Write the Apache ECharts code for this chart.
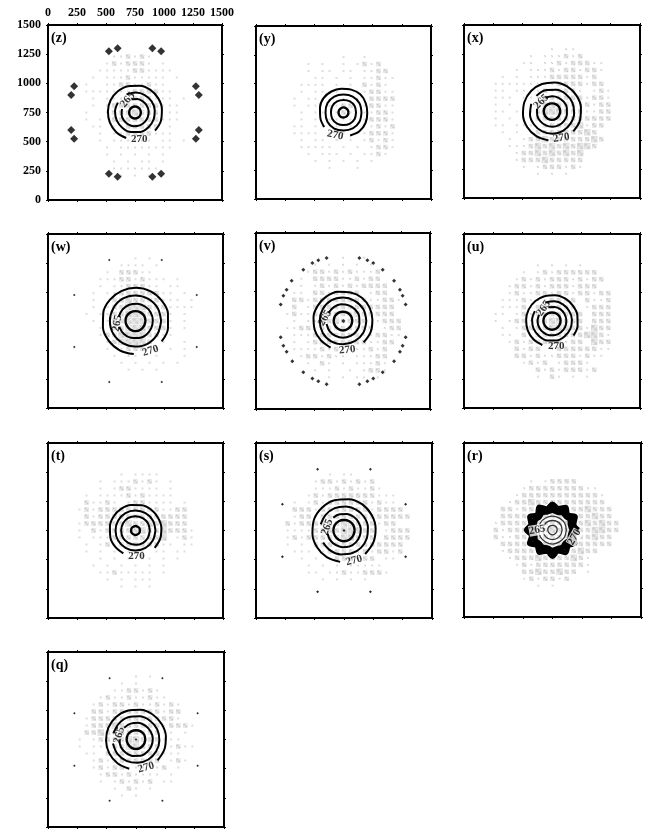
<!DOCTYPE html>
<html>
<head>
<meta charset="utf-8">
<style>
html, body { margin: 0; padding: 0; background: #fff; }
#main { width: 646px; height: 829px; }
</style>
<script src="https://cdn.jsdelivr.net/npm/echarts@6/dist/echarts.min.js"></script>
</head>
<body>
<div id="main"></div>
<script>
var ticks = [0, 250, 500, 750, 1000, 1250, 1500];

// gray cloud density read by eye, cells 60 units apart, x 210..1290, y 1290..210
var cloudZ = [
"...................",
"......112121.......",
".....1212221.1.....",
"....11111221111....",
"...1.111211111.1...",
"..1..112211211.....",
"..1111111222211....",
"...1.1111222111.1..",
"...1.12222222111...",
"..1..12223222.11...",
"..1.1.2222222111...",
"...11.1122222.1....",
"....1.112222111....",
"....1.111111.11.1..",
".....1.11111111....",
".....1.1.1.1.1.....",
"......1.1.11.1.....",
"......1111111......",
".......1.1.1......."];
var cloudY = [
"...................",
".........1..1......",
"....1.1..1.1212....",
"....1.11.11.1122...",
".....11.1.1.11211..",
"...1111.1.1.2121...",
"...1.1111..112211..",
"..1.111..1.112222..",
"..1.11.1122.12211..",
"...1.11.121.11221..",
"...1.1.1111.12221..",
"..11.11.1.1.11212..",
"..1111.1.1.112221..",
"...1.11.1.1.12121..",
"...11111.1.1.1221..",
"....1.111.1.1121...",
".....1.1.1.1.1.....",
".......1...1.......",
"..................."];
var cloudX = [
".........1.11......",
"......1.111212.....",
".....11.112122211..",
"....1.11121221221..",
"..1.1.1112222212...",
".1111111112222122..",
".11.1111212221.121.",
".111.1112222221221.",
".1.1.1122322212122.",
".11.1.123332221122.",
".1.1.1122222222222.",
".11.111.222223122..",
"..1.1.1222222232...",
"...1.122322222232..",
"...1112323232332...",
"....1223232323.....",
"....1222322222.....",
".....1.1222121.....",
".......1.1.1......."];
var cloudW = [
".........1.1.......",
".......1111.1......",
".....1.22211.......",
"....1112212111.1...",
"....1.1122211.11...",
"...1.1122222211.1..",
"...1..2232222111.1.",
"...1.1223332221111.",
"..1.11223332221.1..",
"...1.1223332221.1..",
"....1.223332221.1..",
"....12233332211....",
".....1233332.1..1..",
".....1.1222.1.1.1..",
"......1.11..1...1..",
".......1.1.1.1.1...",
"........1.1.1......",
"...................",
"..................."];
var cloudV = [
".........1..1......",
".....1.1.1.1.1.....",
"....12212121112....",
"...1.2222112122....",
"...1.12121212222...",
"..11.2212222.122...",
"..2212222222211221.",
"..2.1222222222222..",
".1211222222322222..",
"..1.112232222.1222.",
".1122122222222.122.",
"..1112222222112211.",
"..1.1222222221122..",
"..11112121111212...",
"...1221211.11122...",
"....1.21.1.11121...",
".....1.1..1.1221...",
".......1.1.11.1....",
"..................."];
var cloudU = [
"...................",
".......1.1.1.1.....",
".....1.121222222...",
"....1212122212122..",
"...1221212221222...",
"...121122122122122.",
"..11121112222.2112.",
"..11121222222.1222.",
".11.1212222222.222.",
".1.12212233222.222.",
"..1.12222333221322.",
"..11.2122222223321.",
"...12122222122.322.",
"....2122.122222211.",
"....2212112221211..",
".....1212.12221....",
".......212122212...",
".......1.21.1.1....",
"..................."];
var cloudT = [
"...................",
".......1.1111......",
"....1.1112121.1....",
"....1.1221111.1....",
"..1.11112121111....",
"..21121.1221111.1..",
".1212222222221122..",
"..212222222222222..",
".1222222322323222..",
".1.212222232232221.",
".1.11122222223.121.",
"..1.12122222211.11.",
"..1.1.1.111.11.11..",
"....1.1.1.11.1.1...",
"...1.1.1.1.1.1.....",
"....11211111.1.....",
".....1.1.111.......",
".......1.1.1.......",
"..................."];
var cloudS = [
"...................",
".......1.11........",
".....122121212.....",
".....1112121121....",
"....1212222222111..",
"..1.1212222221211..",
"..2221222222212222.",
"..12212222222222222",
".2122222233222122..",
".1111222233322.1222",
".1212222233222.2222",
".1.1.2222222222222.",
"..111.122221212212.",
"...1.1.1222122.11..",
"....1.1.1.11111....",
"....11.112112221...",
"......1.1.1.1......",
"...................",
"..................."];
var cloudR = [
"...................",
"...................",
"......1.12222......",
".....12222222211...",
"....1222222222221..",
"...12232222222222..",
"..2212222222223222.",
"..2222222222222322.",
".122222222222232322",
".212222223222223322",
".21122222222222322.",
"..2222222222222222.",
"..12222222222322...",
"...122232222321....",
"....12122222221....",
".....22322322.1....",
".....1212212.......",
".......1.1.........",
"..................."];
var cloudQ = [
".........1.1.......",
".......1.1.........",
"......1122121......",
"....1211211211.....",
"...1212212112121...",
"...2212222222122...",
"..12222222222221...",
"..1222322222212221.",
"..2232222222211.1..",
".1.1222233222111...",
".1.1112233222.1211.",
"..11.22222222111...",
"...1212222222.121..",
"...12122.11.12.1...",
"....122121111.1....",
"....1.121212.11....",
"......1.21.1.......",
".......1.1.........",
"..................."];

// contour arcs: [from angle, to angle, radii at even angle steps], 750,750 is the middle
var ringsZ = [
  [-42, 251, [232,234,233,234,235,234,234,235,235,233,233,234,232]],
  [-210, 115, [170,172,171,171,172,173,172,171,171,172,172,171,172]],
  [-195, 105, [116,117,117,117,118,118,117,117,118,117,117,118,117]],
  [0, 360, [50,51,51,51,51,51,50,51,51,51,51,51,50]]
];
var ringsY = [
  [-74, 217, [206,212,210,205,208,213,208,205,209,212,207,205,208]],
  [0, 360, [155,159,159,155,159,160,155,160,160,155,159,159,155]],
  [0, 360, [108,111,111,108,111,111,108,111,111,108,111,111,108]],
  [0, 360, [43,43,43,44,43,43,43,43,44,43,43,43,43]]
];
var ringsX = [
  [-43, 263, [250,252,251,251,252,251,251,252,251,251,252,251,250]],
  [-200, 135, [190,191,191,190,191,191,190,191,191,191,190,191,190]],
  [-190, 115, [131,131,131,131,131,131,131,131,131,131,131,131,130]],
  [0, 360, [71,72,71,70,71,72,71,70,71,72,71,70,71]]
];
var ringsW = [
  [-38, 267, [285,286,286,285,286,286,285,286,286,285,286,286,285]],
  [0, 360, [220,221,220,220,221,220,220,221,220,220,221,220,220]],
  [-160, 165, [149,150,149,149,150,149,149,150,149,149,150,149,149]],
  [0, 360, [86,87,86,85,86,87,86,85,86,87,86,85,86]]
];
var ringsV = [
  [-46, 245, [254,255,252,255,257,253,255,254,253,255,254,252,252]],
  [0, 360, [200,202,200,201,203,201,199,201,202,200,200,201,200]],
  [-170, 150, [143,144,143,144,143,144,143,144,143,143,144,143,143]],
  [0, 360, [80,81,80,79,80,81,80,79,80,81,80,79,80]]
];
var ringsU = [
  [-34, 248, [222,223,223,222,223,223,222,223,223,222,223,223,222]],
  [-210, 110, [170,171,171,170,171,171,170,171,171,170,171,171,170]],
  [-205, 105, [123,124,123,123,124,123,123,124,123,123,124,123,123]],
  [0, 360, [74,75,74,73,74,75,74,73,74,75,74,73,74]]
];
var ringsT = [
  [-42, 242, [222,223,223,222,223,223,222,223,223,222,223,223,222]],
  [0, 360, [171,172,171,171,172,171,171,172,171,171,172,171,171]],
  [0, 360, [123,124,123,123,124,123,123,124,123,123,124,123,123]],
  [0, 360, [37,39,37,39,37,39,37,39,37,39,37,39,37]]
];
var ringsS = [
  [-48, 263, [270,271,271,271,273,271,271,271,273,271,271,271,270]],
  [-150, 165, [206,207,206,206,207,206,206,207,206,206,207,206,206]],
  [-170, 130, [143,144,143,143,144,143,143,144,143,143,144,143,143]],
  [0, 360, [91,92,91,90,91,92,91,90,91,92,91,90,91]]
];
var ringsR = [
  [0, 360, [220,190,226,186,224,192,222,188,228,186,226,192,224,186,228,190,222,188,226,186,224,192,222,188,220]],
  [0, 360, [172,162,176,166,172,160,172,164,176,162,172,166,172,160,174,164,172,162,176,166,172,160,172,162,172]],
  [0, 360, [118,120,117,119,118,120,117,119,118,120,117,119,118]],
  [0, 360, [82,83,82,81,82,83,82,81,82,83,82,81,82]],
  [0, 360, [40,41,40,39,40,41,40,39,40,41,40,39,40]]
];
var ringsQ = [
  [-44, 257, [256,257,257,256,257,257,256,257,257,256,257,257,256]],
  [-170, 165, [200,201,200,200,201,200,200,201,200,200,201,200,200]],
  [-180, 135, [143,144,143,143,144,143,143,144,143,143,144,143,143]],
  [0, 360, [80,81,80,79,80,81,80,79,80,81,80,79,80]]
];

var marksZ = [[525,1275],[600,1300],[900,1300],[975,1275],[225,975],[200,900],[1275,975],[1300,900],
  [200,600],[225,525],[1300,600],[1275,525],[525,225],[600,200],[900,200],[975,225]];
var marksV = [[609,1287],[537,1267],[486,1244],[408,1187],[307,1093],[264,1016],[236,965],[213,891],
  [213,612],[236,538],[264,487],[313,407],[408,313],[486,259],[537,236],[609,211],
  [891,1287],[960,1267],[1011,1244],[1092,1187],[1190,1093],[1241,1016],[1264,965],[1290,891],
  [1290,612],[1264,538],[1241,487],[1190,407],[1092,313],[1011,259],[960,236],[891,211],[753,749]];
var marksEight = [[525,1275],[975,1275],[225,975],[1275,975],[225,525],[1275,525],[525,225],[975,225]];
var marksCenter = [[750,750]];

// contour label spots: [text, x, y, rotate]
var labelsZ = [["265",687,859,50],["270",787,521,0]];
var labelsY = [["270",679,553,-12]];
var labelsX = [["265",659,836,45],["270",830,521,8]];
var labelsW = [["265",593,730,80],["270",879,493,18]];
var labelsV = [["265",593,776,60],["270",787,504,5]];
var labelsU = [["265",679,859,55],["270",787,530,0]];
var labelsT = [["270",759,530,0]];
var labelsS = [["265",607,779,70],["270",836,493,15]];
var labelsR = [["265",620,750,10],["270",936,687,60]];
var labelsQ = [["265",607,787,75],["270",836,510,15]];

var panels = [
  { name: "(z)", box: [48, 25, 174, 175], cloud: cloudZ, rings: ringsZ, labels: labelsZ, marks: marksZ, markSize: 8 },
  { name: "(y)", box: [256, 26, 175, 173], cloud: cloudY, rings: ringsY, labels: labelsY, marks: [], markSize: 0 },
  { name: "(x)", box: [464, 25, 176, 173], cloud: cloudX, rings: ringsX, labels: labelsX, marks: [], markSize: 0 },
  { name: "(w)", box: [48, 234, 175, 174], cloud: cloudW, rings: ringsW, labels: labelsW, marks: marksEight, markSize: 2.5 },
  { name: "(v)", box: [256, 233, 174, 176], cloud: cloudV, rings: ringsV, labels: labelsV, marks: marksV, markSize: 4 },
  { name: "(u)", box: [464, 234, 176, 174], cloud: cloudU, rings: ringsU, labels: labelsU, marks: [], markSize: 0 },
  { name: "(t)", box: [48, 443, 175, 175], cloud: cloudT, rings: ringsT, labels: labelsT, marks: [], markSize: 0 },
  { name: "(s)", box: [256, 443, 176, 175], cloud: cloudS, rings: ringsS, labels: labelsS, marks: marksEight.concat(marksCenter), markSize: 3 },
  { name: "(r)", box: [464, 443, 177, 174], cloud: cloudR, rings: ringsR, labels: labelsR, marks: [], markSize: 0 },
  { name: "(q)", box: [48, 652, 176, 175], cloud: cloudQ, rings: ringsQ, labels: labelsQ, marks: marksEight.concat(marksCenter), markSize: 2.5 }
];

var serif = "Liberation Serif";
var cloudSizes = [0, 2, 4.5, 6.5];

// little checker tile so the cloud looks stippled like the print
var tile = document.createElement("canvas");
tile.width = 2;
tile.height = 2;
var tileCtx = tile.getContext("2d");
tileCtx.fillStyle = "#f0f0f0";
tileCtx.fillRect(0, 0, 2, 2);
tileCtx.fillStyle = "#bababa";
tileCtx.fillRect(0, 0, 1, 1);
tileCtx.fillRect(1, 1, 1, 1);

function cloudPoints(rows) {
  var pts = [];
  rows.forEach(function (row, j) {
    for (var i = 0; i < row.length; i++) {
      if (row[i] !== ".") pts.push([210 + 60 * i, 1290 - 60 * j, +row[i]]);
    }
  });
  return pts;
}

function arcPoints(arc) {
  var step = (arc[1] - arc[0]) / (arc[2].length - 1);
  return arc[2].map(function (r, k) { return [r, arc[0] + k * step]; });
}

var option = {
  animation: false,
  backgroundColor: "#fff",
  title: [], grid: [], xAxis: [], yAxis: [], polar: [], radiusAxis: [], angleAxis: [], series: []
};

panels.forEach(function (p, n) {
  var left = p.box[0], top = p.box[1], w = p.box[2], h = p.box[3];
  var first = n === 0;
  var line = { show: true, onZero: false, lineStyle: { color: "#000", width: 2 } };
  var tick = { show: true, length: 2, lineStyle: { color: "#000", width: 1 } };
  var labelStyle = { fontFamily: serif, fontWeight: "bold", fontSize: 12, color: "#000", formatter: function (v) { return String(v); } };

  option.title.push({
    text: p.name, left: left + 3, top: top + 6, padding: 0,
    textStyle: { fontFamily: serif, fontWeight: "bold", fontSize: 14, color: "#000" }
  });
  option.grid.push({ left: left, top: top, width: w, height: h });

  ["bottom", "top"].forEach(function (pos) {
    option.xAxis.push({
      type: "value", gridIndex: n, position: pos, min: ticks[0], max: ticks[6], interval: ticks[1],
      axisLine: line, axisTick: tick, splitLine: { show: false },
      axisLabel: Object.assign({ show: first && pos === "top", margin: 6, showMinLabel: true, showMaxLabel: true }, labelStyle)
    });
  });
  ["left", "right"].forEach(function (pos) {
    option.yAxis.push({
      type: "value", gridIndex: n, position: pos, min: ticks[0], max: ticks[6], interval: ticks[1],
      axisLine: line, axisTick: tick, splitLine: { show: false },
      axisLabel: Object.assign({ show: first && pos === "left", margin: 7, showMinLabel: true, showMaxLabel: true }, labelStyle)
    });
  });

  option.polar.push({ center: [left + w / 2, top + h / 2], radius: (w + h) / 4 });
  option.radiusAxis.push({ polarIndex: n, min: 0, max: 750, show: false });
  option.angleAxis.push({ polarIndex: n, min: 0, max: 360, startAngle: 0, clockwise: false, show: false });

  option.series.push({
    type: "scatter", xAxisIndex: n * 2, yAxisIndex: n * 2, silent: true, z: 1,
    symbol: "rect",
    symbolSize: function (v) { return cloudSizes[v[2]]; },
    itemStyle: { color: { image: tile, repeat: "repeat" } },
    data: cloudPoints(p.cloud)
  });

  p.rings.forEach(function (arc, k) {
    var width = 2;
    if (k === p.rings.length - 1) width = 2.4;
    if (p.name === "(r)") width = k === 0 ? 5 : (k === 1 ? 6 : 1.3);
    option.series.push({
      type: "line", coordinateSystem: "polar", polarIndex: n, silent: true, z: 3,
      showSymbol: false, smooth: 0.35, clip: false,
      lineStyle: { color: p.name === "(r)" && k > 1 ? "#333" : "#000", width: width },
      data: arcPoints(arc)
    });
  });

  if (p.marks.length) {
    option.series.push({
      type: "scatter", xAxisIndex: n * 2, yAxisIndex: n * 2, silent: true, z: 4,
      symbol: "diamond", symbolSize: p.markSize,
      itemStyle: { color: "#000" },
      data: p.marks
    });
  }

  option.series.push({
    type: "scatter", xAxisIndex: n * 2, yAxisIndex: n * 2, silent: true, z: 5,
    symbolSize: 0,
    data: p.labels.map(function (l) {
      return {
        value: [l[1], l[2]],
        label: {
          show: true, position: "inside", formatter: l[0], rotate: l[3],
          fontFamily: serif, fontWeight: "bold", fontSize: 11, color: "#000",
          backgroundColor: p.name === "(r)" ? "#fff" : "transparent"
        }
      };
    })
  });
});

var chart = echarts.init(document.getElementById("main"), null, { renderer: "canvas" });
chart.setOption(option);
</script>
</body>
</html>
